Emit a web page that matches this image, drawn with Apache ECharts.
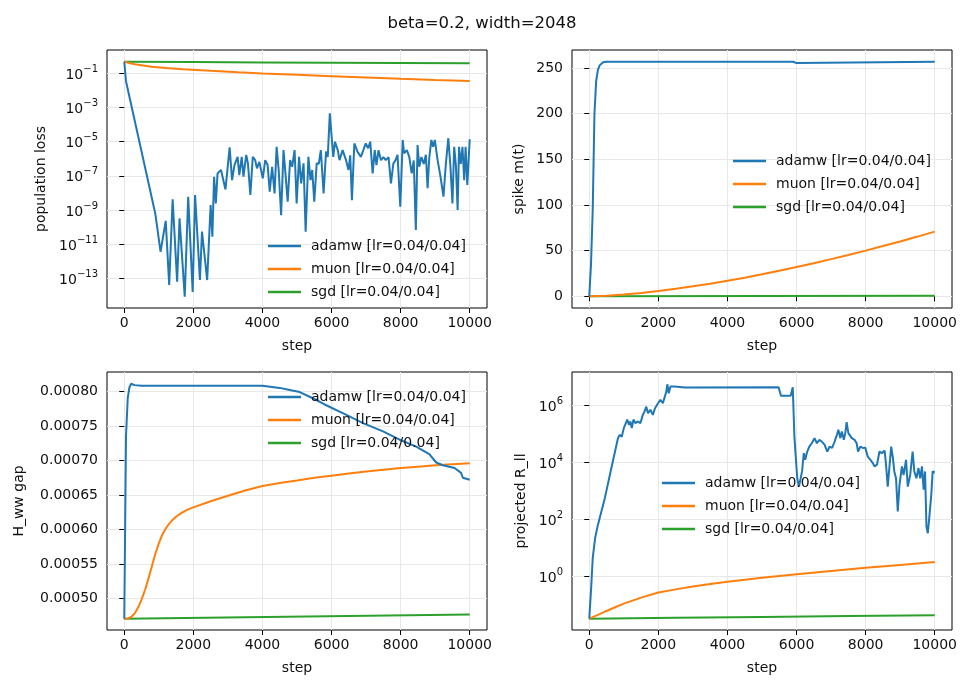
<!DOCTYPE html>
<html>
<head>
<meta charset="utf-8">
<script src="https://cdn.jsdelivr.net/npm/echarts@6/dist/echarts.min.js"></script>
<style>html,body{margin:0;padding:0;background:#fff}#c{width:964px;height:683px}</style>
</head>
<body>
<div id="c"></div>
<script>
// ---------- DATA ----------
const title = 'beta=0.2, width=2048';
const seriesNames = ['adamw [lr=0.04/0.04]', 'muon [lr=0.04/0.04]', 'sgd [lr=0.04/0.04]'];
const xTicks = [0, 2000, 4000, 6000, 8000, 10000];

// panel 1: population loss (log)
const lossAdamwSteps = [0,50,900,950,1050,1200,1300,1400,1530,1600,1750,1850,1980,2050,2190,2250,2400,2500,2550,2600,2650,2700,2800,2930,3050,3120,3190,3280,3330,3400,3450,3530,3580,3650,3720,3790,3840,3910,4010,4080,4150,4210,4280,4350,4410,4470,4540,4610,4670,4730,4800,4860,4930,4990,5060,5120,5190,5250,5330,5390,5440,5500,5570,5630,5690,5770,5840,5890,5950,6010,6050,6100,6180,6230,6320,6420,6490,6540,6590,6660,6750,6850,6920,6990,7060,7120,7190,7250,7300,7360,7430,7500,7570,7650,7720,7790,7850,7910,7990,8060,8100,8180,8250,8320,8380,8440,8490,8540,8600,8670,8730,8780,8830,8890,8940,8990,9070,9150,9240,9310,9380,9440,9500,9550,9600,9650,9690,9740,9790,9840,9880,9930,10000];
const lossAdamw = [0.48,3.5e-2,5.8e-10,5e-10,3.6e-12,2.3e-10,4.1e-14,4.2e-9,6.3e-14,3.2e-10,8.3e-15,6e-9,1.6e-14,7.6e-9,7.9e-14,5.4e-11,7.9e-14,1.95e-9,2.7e-11,8.9e-8,2.45e-9,1.4e-7,2.2e-7,1.6e-8,4.7e-6,5.6e-8,4.3e-7,1.3e-6,1.1e-7,1.3e-6,8.9e-8,1.7e-6,5.4e-7,7.6e-9,1.3e-6,8.3e-7,2.75e-7,6.6e-7,7.1e-8,8.3e-7,4.3e-7,1.2e-8,3.4e-7,9.3e-9,5e-6,2.2e-7,5e-10,3.2e-6,1.1e-7,3.1e-9,8.3e-7,3.4e-7,3.2e-6,2.45e-9,1.3e-6,3.6e-8,5.4e-7,5.4e-11,1.3e-6,5.6e-8,2.2e-7,3.1e-9,5.4e-7,5e-7,3.2e-6,9.3e-9,2.6e-6,1.26e-6,4.6e-4,1.26e-5,1.3e-6,1e-5,3.2e-6,8.3e-7,3.2e-6,8.3e-7,2.2e-7,1.6e-6,3.8e-9,7.9e-6,2.6e-6,1.3e-6,3.2e-6,7.9e-6,4.1e-6,1e-5,1.4e-7,3.2e-6,4.3e-7,3.2e-6,8.3e-7,1.26e-6,8.3e-7,1.26e-6,3.6e-8,5.4e-7,8e-7,1.7e-6,1.55e-9,1.26e-5,2.1e-6,3.2e-6,1.3e-6,1.4e-7,8e-7,6.8e-11,6.3e-6,3.4e-7,1.26e-6,5e-7,1.7e-6,1.9e-8,1.26e-6,1.26e-5,5e-6,1.26e-5,8.3e-7,1e-7,6e-9,5.4e-7,1.6e-5,4e-7,2.45e-9,5e-6,4e-7,1e-9,5e-6,5e-7,5e-6,5.6e-8,5e-6,2.9e-8,1.4e-5];
const lossMuonSteps = [0,200,400,800,1200,1700,2500,3300,4000,5000,6000,7000,8000,9000,10000];
const lossMuon = [0.479,0.38,0.316,0.245,0.204,0.174,0.141,0.115,0.1,0.083,0.069,0.0575,0.0479,0.0407,0.0355];
const lossSgdSteps = [0,2000,4000,6000,8000,10000];
const lossSgd = [0.479,0.459,0.44,0.422,0.405,0.389];
const lossTicks = [1e-13,1e-11,1e-9,1e-7,1e-5,1e-3,1e-1];

// panel 2: spike m(t)
const spikeAdamwSteps = [0,50,100,150,200,250,300,400,500,1000,3000,5900,5950,6000,6050,10000];
const spikeAdamw = [0,35,95,200,236,248,253,256.5,257,257,257,257,256,255.5,256.8,257];
const spikeMuonSteps = [0,500,1000,1500,2000,2500,3000,3500,4000,4500,5000,5500,6000,6500,7000,7500,8000,8500,9000,9500,10000];
const spikeMuon = [0,0.7,2.0,3.7,5.8,8.2,10.9,13.8,17,20.4,24.1,27.9,32.0,36.2,40.7,45.2,50.0,55.0,60.1,65.4,70.8];
const spikeSgdSteps = [0,10000];
const spikeSgd = [0,0.6];
const spikeTicks = [0,50,100,150,200,250];

// panel 3: H_ww gap
const gapAdamwSteps = [0,50,100,150,200,300,500,4000,4500,4790,5080,5460,5800,6430,6910,7490,7970,8450,8830,9030,9220,9560,9750,9800,10000];
const gapAdamw = [0.000471,0.000735,0.00079,0.000806,0.000811,0.000809,0.000808,0.000808,0.000805,0.000802,0.000799,0.00079,0.000781,0.000766,0.000754,0.000742,0.00073,0.00072,0.000709,0.000697,0.000693,0.000689,0.000682,0.000675,0.000672];
const gapMuonSteps = [0,100,200,300,400,500,600,700,800,900,1000,1100,1200,1300,1400,1500,1600,1700,1800,1900,2000,2500,3000,3500,4000,4500,5000,5500,6000,6500,7000,7500,8000,8500,9000,9500,10000];
const gapMuon = [0.000471,0.0004712,0.0004735,0.0004785,0.000487,0.0004985,0.0005125,0.000529,0.000547,0.000565,0.00058,0.0005925,0.0006015,0.0006085,0.000614,0.0006185,0.0006222,0.0006253,0.000628,0.0006302,0.000632,0.000641,0.000649,0.0006565,0.000663,0.0006675,0.000671,0.0006748,0.000678,0.000681,0.000684,0.0006866,0.000689,0.000691,0.000693,0.0006946,0.000696];
const gapSgdSteps = [0,10000];
const gapSgd = [0.000471,0.000477];
const gapTicks = [0.0005,0.00055,0.0006,0.00065,0.0007,0.00075,0.0008];

// panel 4: projected R_ll (log)
const rAdamwSteps = [0,60,100,170,250,450,640,830,880,940,1000,1050,1100,1150,1190,1230,1280,1340,1400,1480,1550,1600,1650,1700,1770,1840,1900,1990,2060,2130,2180,2230,2260,2300,2350,2470,2760,5480,5550,5830,5890,5940,6020,6070,6110,6160,6210,6250,6310,6370,6440,6520,6590,6660,6730,6810,6890,6960,7030,7100,7170,7210,7270,7310,7370,7410,7450,7500,7550,7600,7680,7740,7780,7850,7920,7990,8060,8140,8210,8260,8330,8400,8470,8550,8590,8640,8690,8740,8790,8830,8880,8930,8980,9050,9100,9170,9220,9290,9360,9410,9470,9530,9580,9630,9680,9720,9760,9800,9850,9900,9940,10000];
const rAdamw = [0.0316,0.5,4.3,22,63,550,6300,7.1e4,9.3e4,7.9e4,1.6e5,1.8e5,3.2e5,2.1e5,2.75e5,1.6e5,3.2e5,2.4e5,2.75e5,2.4e5,4.7e5,6.2e5,9.1e5,5.4e5,7.1e5,4.7e5,7.9e5,1.2e6,1.6e6,1.2e6,1.05e6,3.1e6,5.6e6,2.7e6,4.7e6,4.7e6,4.3e6,4.4e6,2.2e6,2.2e6,4.4e6,7.1e4,2750,1400,1230,4800,2.1e4,1.23e4,2.4e4,3.6e4,4.7e4,7.1e4,4.7e4,6.2e4,5.4e4,4.2e4,2.4e4,3.6e4,3.2e4,5.4e4,9.3e4,1.4e5,7.1e4,1.23e5,6.2e4,1.07e5,2.6e5,1.07e5,1.23e5,7.1e4,6.2e4,4.7e4,2.4e4,3.6e4,3.2e4,3.3e4,1.6e4,1.23e4,9300,7200,8300,2.4e4,2.1e4,2.6e4,8300,1400,1400,3.6e4,1.4e4,4800,2750,186,1600,7200,3600,1.23e4,1400,3600,2.4e4,4800,2750,6300,2750,7200,1100,4800,56,32,145,720,4800,4400];
const rMuonSteps = [0,250,500,750,1000,1500,2000,2500,3000,3500,4000,4500,5000,6000,7000,8000,9000,10000];
const rMuon = [0.0316,0.0427,0.0589,0.0794,0.107,0.174,0.263,0.339,0.427,0.525,0.631,0.741,0.871,1.15,1.51,1.95,2.45,3.09];
const rSgdSteps = [0,2500,5000,7500,10000];
const rSgd = [0.0316,0.0339,0.0363,0.0389,0.0417];
const rTicks = [1,100,1e4,1e6];

// ---------- CHART ----------
const colors = ['#1f77b4', '#ff7f0e', '#2ca02c'];
const FONT = 'DejaVu Sans';
const TXT = '#111';
const zip = (xs, ys) => xs.map((x, i) => [x, ys[i]]);

const grids = [
  {left: 107, top: 50, width: 380, height: 258},
  {left: 572, top: 50, width: 380, height: 258},
  {left: 107, top: 372, width: 380, height: 258},
  {left: 572, top: 372, width: 380, height: 258}
].map(g => Object.assign({show: true, borderColor: '#000', borderWidth: 1, backgroundColor: 'transparent', containLabel: false}, g));

function supLabel(v) {
  const e = Math.round(Math.log10(v));
  return '{b|10}{s|' + (e < 0 ? '\u2212' : '') + Math.abs(e) + '}';
}
const supRich = {
  b: {fontFamily: FONT, fontSize: 14, color: TXT, lineHeight: 18, verticalAlign: 'bottom'},
  s: {fontFamily: FONT, fontSize: 10, color: TXT, lineHeight: 10, verticalAlign: 'top'}
};

function baseAxis(extra) {
  return Object.assign({
    axisLine: {show: false},
    splitLine: {show: true, lineStyle: {color: '#e8e8e8', width: 1}},
    nameTextStyle: {fontFamily: FONT, fontSize: 14, color: TXT},
  }, extra);
}
const tick = vals => ({show: true, inside: false, length: 5, lineStyle: {color: '#000', width: 1}, customValues: vals});

const xAxes = [0, 1, 2, 3].map(i => baseAxis({
  type: 'value', gridIndex: i, min: -500, max: 10500,
  name: 'step', nameLocation: 'middle', nameGap: 31,
  axisTick: tick(xTicks),
  axisLabel: {customValues: xTicks, margin: 8, fontFamily: FONT, fontSize: 14, color: TXT, formatter: v => String(Math.round(v))}
}));

const yAxes = [
  baseAxis({type: 'log', logBase: 10, gridIndex: 0, min: Math.pow(10, -14.74), max: Math.pow(10, 0.37),
    name: 'population loss', nameLocation: 'middle', nameGap: 59,
    axisTick: tick(lossTicks),
    axisLabel: {customValues: lossTicks, margin: 9, formatter: supLabel, rich: supRich}}),
  baseAxis({type: 'value', gridIndex: 1, min: -12.85, max: 269.85,
    name: 'spike m(t)', nameLocation: 'middle', nameGap: 46,
    axisTick: tick(spikeTicks),
    axisLabel: {customValues: spikeTicks, margin: 9, fontFamily: FONT, fontSize: 14, color: TXT}}),
  baseAxis({type: 'value', gridIndex: 2, min: 0.0004546, max: 0.000828,
    name: 'H_ww gap', nameLocation: 'middle', nameGap: 81,
    axisTick: tick(gapTicks),
    axisLabel: {customValues: gapTicks, margin: 9, fontFamily: FONT, fontSize: 14, color: TXT, formatter: v => Number(v).toFixed(5)}}),
  baseAxis({type: 'log', logBase: 10, gridIndex: 3, min: Math.pow(10, -1.9), max: Math.pow(10, 7.18),
    name: 'projected R_ll', nameLocation: 'middle', nameGap: 44,
    axisTick: tick(rTicks),
    axisLabel: {customValues: rTicks, margin: 9, formatter: supLabel, rich: supRich}})
];

const panels = [
  [zip(lossAdamwSteps, lossAdamw), zip(lossMuonSteps, lossMuon), zip(lossSgdSteps, lossSgd)],
  [zip(spikeAdamwSteps, spikeAdamw), zip(spikeMuonSteps, spikeMuon), zip(spikeSgdSteps, spikeSgd)],
  [zip(gapAdamwSteps, gapAdamw), zip(gapMuonSteps, gapMuon), zip(gapSgdSteps, gapSgd)],
  [zip(rAdamwSteps, rAdamw), zip(rMuonSteps, rMuon), zip(rSgdSteps, rSgd)]
];
const series = [];
panels.forEach((p, gi) => {
  p.forEach((d, si) => {
    series.push({
      type: 'line', name: seriesNames[si], xAxisIndex: gi, yAxisIndex: gi, data: d,
      showSymbol: false, symbol: 'none', smooth: false,
      lineStyle: {color: colors[si], width: 2}, itemStyle: {color: colors[si]}, z: 3 - si
    });
  });
});

const legendPos = [
  {left: 263, top: 234},
  {left: 728, top: 149},
  {left: 263, top: 385},
  {left: 657, top: 471}
];
const legends = legendPos.map(p => ({
  left: p.left, top: p.top, orient: 'vertical', itemGap: 9,
  icon: 'rect', itemWidth: 33, itemHeight: 2.5,
  data: seriesNames.map((n, i) => ({name: n, itemStyle: {color: colors[i]}})),
  textStyle: {fontFamily: FONT, fontSize: 14, color: TXT, padding: [0, 0, 0, 5]},
  selectedMode: false
}));

const chart = echarts.init(document.getElementById('c'), null, {renderer: 'canvas'});
chart.setOption({
  animation: false,
  backgroundColor: '#fff',
  color: colors,
  title: {text: title, left: 'center', top: 10, textStyle: {fontFamily: FONT, fontSize: 16.5, fontWeight: 'normal', color: TXT}},
  grid: grids,
  xAxis: xAxes,
  yAxis: yAxes,
  legend: legends,
  series: series
});
</script>
</body>
</html>
